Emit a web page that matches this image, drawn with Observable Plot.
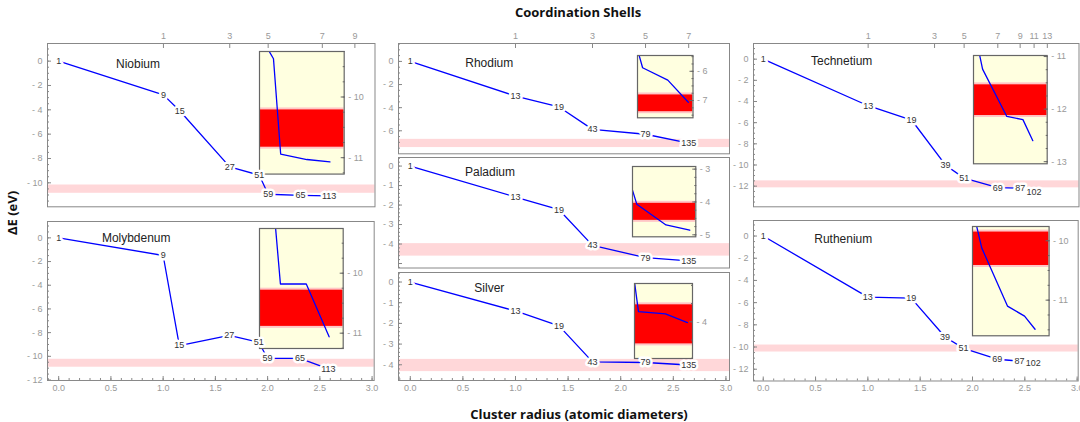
<!DOCTYPE html>
<html><head><meta charset="utf-8">
<script src="https://cdn.jsdelivr.net/npm/d3@7"></script>
<script src="https://cdn.jsdelivr.net/npm/@observablehq/plot@0.6"></script>
<style>
body{margin:0;background:#fff}
#root{position:relative;width:1080px;height:422px;overflow:hidden;background:#fff}
.ttl{position:absolute;font-family:"Open Sans",sans-serif;font-weight:700;font-size:13px;color:#111;white-space:nowrap;transform:translate(-50%,-50%)}
</style></head>
<body><div id="root"></div>
<script>
// ---------- data ----------
const bccRadius = [0, 1.0, 1.155, 1.633, 1.915, 2.0, 2.309, 2.582];
const bccSize = [1, 9, 15, 27, 51, 59, 65, 113];
const niobiumE = [0, -2.77, -4.08, -8.69, -9.37, -10.94, -11.03, -11.07];
const molybdenumE = [0, -1.49, -9.09, -8.24, -8.81, -10.18, -10.18, -11.06];

const fccRadius = [0, 1.0, 1.414, 1.732, 2.236, 2.646];
const fccSize = [1, 13, 19, 43, 79, 135];
const rhodiumE = [0, -3.0, -3.94, -5.88, -6.3, -7.06];
const paladiumE = [0, -1.59, -2.24, -4.07, -4.7, -4.86];
const silverE = [0, -1.4, -2.12, -3.86, -3.89, -4.01];

const hcpRadius = [0, 1.0, 1.414, 1.738, 1.915, 2.236, 2.449, 2.58];
const hcpSize = [1, 13, 19, 39, 51, 69, 87, 102];
const technetiumE = [0, -4.4, -5.75, -10.02, -11.24, -12.14, -12.2, -12.6];
const rutheniumE = [0, -5.5, -5.6, -9.1, -10.12, -11.1, -11.27, -11.49];

// reference energy bands [upper, lower]
const niobiumBand = [-10.18, -10.86];
const molybdenumBand = [-10.25, -10.92];
const rhodiumBand = [-6.74, -7.45];
const paladiumBand = [-3.98, -4.62];
const silverBand = [-3.74, -4.33];
const technetiumBand = [-11.5, -12.16];
const rutheniumBand = [-9.82, -10.45];

// coordination shell tick labels (top axis)
const bccShellLabels = ["1", "3", "5", "7", "9"];
const bccShellRadius = [1.0, 1.633, 2.0, 2.517, 2.828];
const fccShellLabels = ["1", "3", "5", "7"];
const fccShellRadius = [1.0, 1.732, 2.236, 2.646];
const hcpShellLabels = ["1", "3", "5", "7", "9", "11", "13"];
const hcpShellRadius = [1.0, 1.633, 1.915, 2.236, 2.449, 2.582, 2.708];

// ---------- layout ----------
const panels = [
  {name:"Niobium", r:bccRadius, n:bccSize, e:niobiumE, band:niobiumBand,
   box:[46.5,42.7,374,206], xd:[-0.107,3.02], yd:[-11.97,1.45], labelMin:-10, major:2, minor:0.5,
   top:{r:bccShellRadius, t:bccShellLabels}, bottom:false, nameAt:[68.5,20.6],
   inset:{box:[259.3,50.7,344,173.3], xd:[1.75,2.75], yd:[-11.27,-9.25]}},
  {name:"Molybdenum", r:bccRadius, n:bccSize, e:molybdenumE, band:molybdenumBand,
   box:[47.3,221,374,380], xd:[-0.107,3.02], yd:[-12.04,1.38], labelMin:-12, major:2, minor:0.5,
   top:null, bottom:true, nameAt:[54.4,16.3],
   inset:{box:[259,228.3,342.7,348.3], xd:[1.75,2.75], yd:[-11.255,-9.255]}},
  {name:"Rhodium", r:fccRadius, n:fccSize, e:rhodiumE, band:rhodiumBand,
   box:[397.5,42.7,728.5,153], xd:[-0.112,3.034], yd:[-7.99,1.55], labelMin:-6, major:2, minor:0.5,
   top:{r:fccShellRadius, t:fccShellLabels}, bottom:false, nameAt:[66.8,19.6],
   inset:{box:[636.5,55,692,117.3], xd:[1.63,2.74], yd:[-7.59,-5.46]}},
  {name:"Paladium", r:fccRadius, n:fccSize, e:paladiumE, band:paladiumBand,
   box:[397.5,157,728.5,267.5], xd:[-0.112,3.034], yd:[-5.23,0.44], labelMin:-4, major:1, minor:0.2,
   top:null, bottom:false, nameAt:[66.5,14.7],
   inset:{box:[631.7,165.7,695,236], xd:[1.658,2.75], yd:[-5.06,-2.92]}},
  {name:"Silver", r:fccRadius, n:fccSize, e:silverE, band:silverBand,
   box:[397.5,271.5,728.5,379.5], xd:[-0.112,3.034], yd:[-4.76,0.46], labelMin:-4, major:1, minor:0.2,
   top:null, bottom:true, nameAt:[75.8,15.2],
   inset:{box:[634.3,282.7,692.3,357.7], xd:[1.658,2.74], yd:[-4.503,-3.475]}},
  {name:"Technetium", r:hcpRadius, n:hcpSize, e:technetiumE, band:technetiumBand,
   box:[752.5,42.7,1078,206], xd:[-0.093,3.01], yd:[-13.95,1.48], labelMin:-12, major:2, minor:0.5,
   top:{r:hcpShellRadius, t:hcpShellLabels}, bottom:false, nameAt:[57.5,18],
   inset:{box:[973.3,55,1047,163.3], xd:[1.795,2.77], yd:[-13.04,-10.98]}},
  {name:"Ruthenium", r:hcpRadius, n:hcpSize, e:rutheniumE, band:rutheniumBand,
   box:[753.3,219.5,1078,380], xd:[-0.093,3.01], yd:[-13.06,1.40], labelMin:-12, major:2, minor:0.5,
   top:null, bottom:true, nameAt:[60.8,18.8],
   inset:{box:[971.7,225.7,1048.3,335], xd:[1.80,2.755], yd:[-11.6,-9.76]}}
];

// ---------- helpers ----------
const root = document.getElementById("root");
const FONT = "'Liberation Sans', Arial, sans-serif";
const fmtY = d => d < 0 ? "- " + Math.abs(d) : String(d);
const fmtX = d3.format(".1f");
const blank = () => "";
const M = {ml: 36, mr: 2, mt: 18, mb: 20};
function rng(a, b, s) {
  const lo = Math.min(a, b), hi = Math.max(a, b), out = [];
  for (let k = Math.ceil(lo / s - 1e-9); k * s <= hi + 1e-9; k++) out.push(+(k * s).toFixed(4));
  return out;
}
function place(node, left, top) {
  node.style.position = "absolute";
  node.style.left = left + "px";
  node.style.top = top + "px";
  root.appendChild(node);
}
function rows(p) { return p.r.map((r, i) => ({r, e: p.e[i], n: String(p.n[i])})); }

function framePlot(p, marks) {
  const [L, T, R, B] = p.box;
  const svg = Plot.plot({
    width: (R - L) + M.ml + M.mr, height: (B - T) + M.mt + M.mb,
    marginLeft: M.ml, marginRight: M.mr, marginTop: M.mt, marginBottom: M.mb,
    x: {domain: p.xd, label: null, axis: null},
    y: {domain: p.yd, label: null, axis: null},
    style: {fontFamily: FONT, background: "transparent", overflow: "visible"},
    marks
  });
  place(svg, L - M.ml, T - M.mt);
}

function mainPanel(p) {
  const data = rows(p);
  const majors = rng(p.yd[0], p.yd[1], p.major);
  const marks = [
    Plot.rect([p.band], {y1: d => d[0], y2: d => d[1], fill: "#ffd7d9"}),
    Plot.line(data, {x: "r", y: "e", stroke: "#0000ff", strokeWidth: 1.3}),
    Plot.text([p.name], {frameAnchor: "top-left", dx: p.nameAt[0], dy: p.nameAt[1], textAnchor: "start", lineAnchor: "middle", fontSize: 12, fill: "#222"}),
    Plot.axisY({ticks: rng(p.yd[0], p.yd[1], p.minor), tickSize: -2, tickFormat: blank, color: "#888", label: null}),
    Plot.axisY({ticks: majors, tickSize: -4, tickFormat: blank, color: "#888", label: null}),
    Plot.axisY({ticks: majors.filter(v => v >= p.labelMin), tickSize: 0, tickPadding: 5, tickFormat: fmtY, color: "#999", fontSize: 9, label: null})
  ];
  if (p.top) {
    const look = d => p.top.t[p.top.r.indexOf(d)];
    marks.push(
      Plot.axisX({anchor: "top", ticks: p.top.r, tickSize: -4, tickFormat: blank, color: "#888", label: null}),
      Plot.axisX({anchor: "top", ticks: p.top.r, tickSize: 0, tickPadding: 4, tickFormat: look, color: "#999", fontSize: 9, label: null})
    );
  }
  if (p.bottom) {
    marks.push(
      Plot.axisX({anchor: "bottom", ticks: rng(p.xd[0], p.xd[1], 0.1), tickSize: -2, tickFormat: blank, color: "#888", label: null}),
      Plot.axisX({anchor: "bottom", ticks: rng(p.xd[0], p.xd[1], 0.5), tickSize: -4, tickFormat: blank, color: "#888", label: null}),
      Plot.axisX({anchor: "bottom", ticks: rng(p.xd[0], p.xd[1], 0.5), tickSize: 0, tickPadding: 4, tickFormat: fmtX, color: "#999", fontSize: 9, label: null})
    );
  }
  marks.push(Plot.frame({stroke: "#888"}));
  framePlot(p, marks);
}

function labelLayer(p) {
  framePlot(p, [
    Plot.text(rows(p), {x: "r", y: "e", text: "n", fontSize: 9, fill: "#333", stroke: "white", strokeWidth: 5, paintOrder: "stroke"})
  ]);
}

function insetPanel(p) {
  const q = p.inset;
  const [L, T, R, B] = q.box;
  const ml = 1, mr = 28, mt = 1, mb = 1;
  const data = rows(p);
  const svg = Plot.plot({
    width: (R - L) + ml + mr, height: (B - T) + mt + mb,
    marginLeft: ml, marginRight: mr, marginTop: mt, marginBottom: mb,
    x: {domain: q.xd, label: null, axis: null},
    y: {domain: q.yd, label: null, axis: null},
    style: {fontFamily: FONT, background: "transparent", overflow: "visible"},
    marks: [
      Plot.frame({fill: "#ffffe0", stroke: null}),
      Plot.rect([p.band], {y1: d => d[0], y2: d => d[1], fill: "#ffc6c6", clip: true}),
      Plot.rect([p.band], {y1: d => d[0], y2: d => d[1], fill: "#ff0000", insetTop: 2, insetBottom: 2, clip: true}),
      Plot.line(data, {x: "r", y: "e", stroke: "#0000ff", strokeWidth: 1.3, clip: true}),
      Plot.axisY({anchor: "right", ticks: rng(q.yd[0], q.yd[1], 0.25), tickSize: -2, tickFormat: blank, color: "#666", label: null}),
      Plot.axisY({anchor: "right", ticks: rng(q.yd[0], q.yd[1], 1), tickSize: -4, tickFormat: blank, color: "#666", label: null}),
      Plot.axisY({anchor: "right", ticks: rng(q.yd[0], q.yd[1], 1), tickSize: 0, tickPadding: 4, tickFormat: fmtY, color: "#999", fontSize: 9, label: null}),
      Plot.frame({stroke: "#666", strokeWidth: 1.2})
    ]
  });
  place(svg, L - ml, T - mt);
}

panels.forEach(mainPanel);
panels.forEach(insetPanel);
panels.forEach(labelLayer);

function title(text, x, y, rot) {
  const d = document.createElement("div");
  d.className = "ttl";
  d.textContent = text;
  d.style.left = x + "px";
  d.style.top = y + "px";
  if (rot) d.style.transform = "translate(-50%,-50%) rotate(-90deg)";
  root.appendChild(d);
}
title("Coordination Shells", 578, 12);
title("Cluster radius (atomic diameters)", 579, 414);
title("ΔE (eV)", 12, 213, true);
</script>
</body></html>
